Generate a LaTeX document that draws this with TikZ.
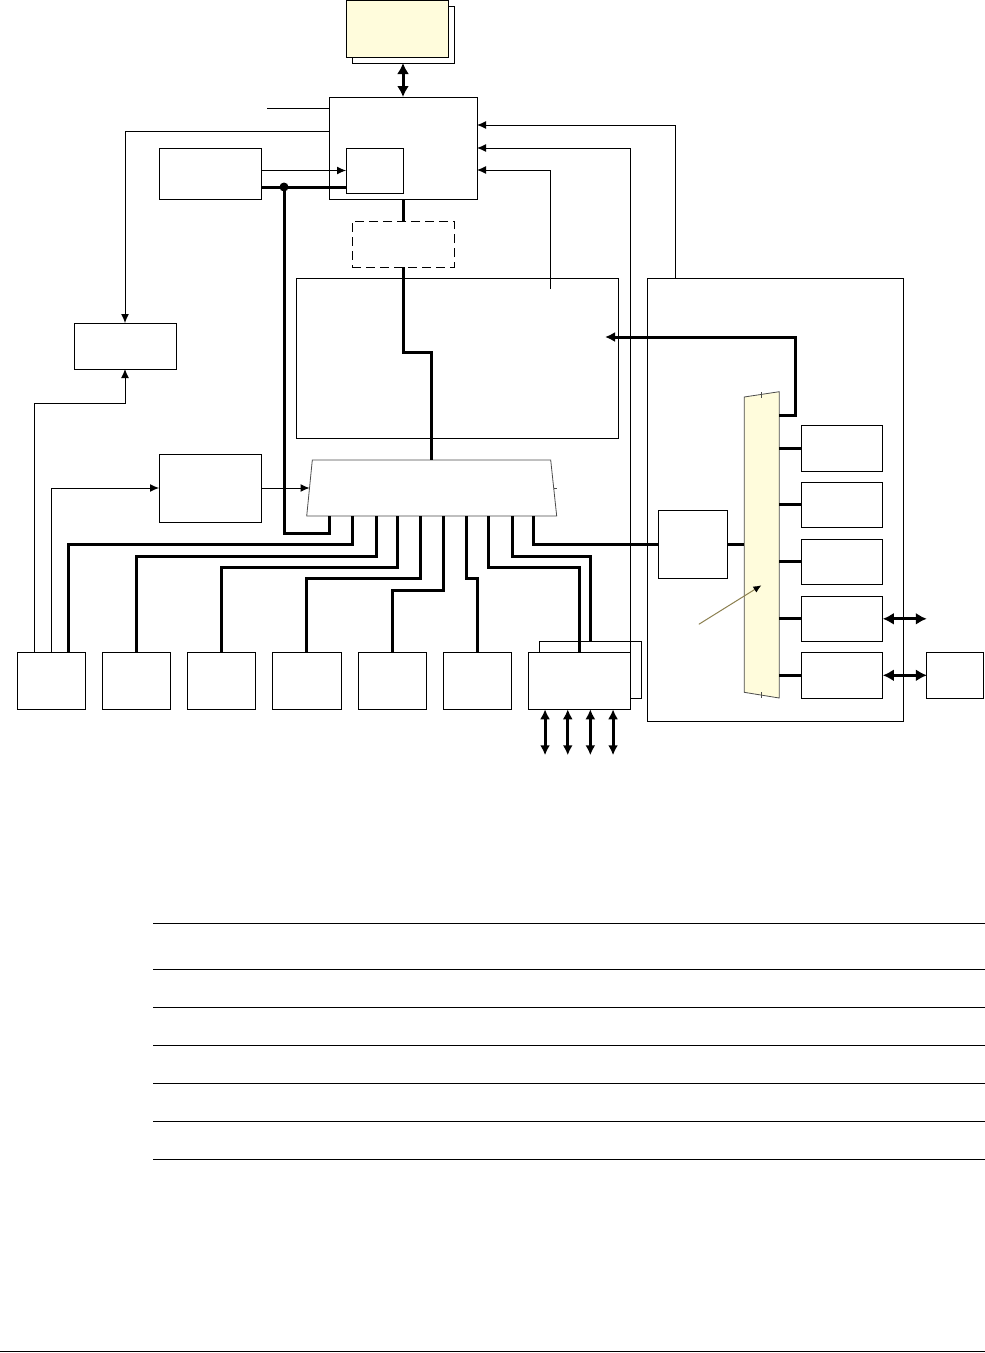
\documentclass[tikz,border=0pt]{standalone}
\usetikzlibrary{arrows.meta,calc}
\definecolor{docyellow}{HTML}{FFFCDC}
\definecolor{pointer}{HTML}{8C8050}
\begin{document}
\begin{tikzpicture}[x=1pt,y=-1pt,
  box/.style={draw,line width=1pt,fill=white,inner sep=0pt,outer sep=0pt},
  sig/.style={line width=1pt},
  bus/.style={line width=3pt},
  tipS/.tip={Latex[length=9pt,width=8pt]},
  tipB/.tip={Latex[length=11pt,width=12pt]},
  tipM/.tip={Latex[length=10pt,width=10pt]}]
\useasboundingbox (0,0) rectangle (985,1353);

% ---- nodes ----
\node[box,minimum width=102pt,minimum height=57pt] (docback) at (403,34.5) {};
\node[box,fill=docyellow,minimum width=102pt,minimum height=57pt] (doc) at (397,29) {};
\node[box,minimum width=148pt,minimum height=102pt] (ctrl) at (403,148) {};
\node[box,minimum width=57pt,minimum height=45pt] (inner) at (374.5,170.5) {};
\node[box,minimum width=102pt,minimum height=51pt] (boxA) at (210,173.5) {};
\node[box,minimum width=102pt,minimum height=46pt] (boxB) at (125,346) {};
\node[box,dashed,dash pattern=on 9pt off 5pt,minimum width=102pt,minimum height=46pt] (dash) at (403,244) {};
\node[box,minimum width=322pt,minimum height=160pt] (cpu) at (457,358) {};
\node[box,minimum width=102pt,minimum height=68pt] (boxC) at (210,488) {};
\node[box,minimum width=255.6pt,minimum height=443.7pt] (panel) at (775.2,500) {};

\node[box,minimum width=68pt,minimum height=56.5pt] (b1) at (51,681) {};
\node[box,minimum width=68pt,minimum height=56.5pt] (b2) at (136,681) {};
\node[box,minimum width=68pt,minimum height=56.5pt] (b3) at (221,681) {};
\node[box,minimum width=69pt,minimum height=56.5pt] (b4) at (306.5,681) {};
\node[box,minimum width=68pt,minimum height=56.5pt] (b5) at (392,681) {};
\node[box,minimum width=68pt,minimum height=56.5pt] (b6) at (477,681) {};
\node[box,minimum width=101.4pt,minimum height=57pt] (b7back) at (590.3,669.5) {};
\node[box,minimum width=102.5pt,minimum height=56.5pt] (b7) at (579.3,681) {};

\node[box,minimum width=69pt,minimum height=68.3pt] (D) at (693,544.2) {};
\node[box,minimum width=81pt,minimum height=46pt] (r1) at (842.3,448.3) {};
\node[box,minimum width=81pt,minimum height=45pt] (r2) at (842.3,504.8) {};
\node[box,minimum width=81pt,minimum height=45pt] (r3) at (842.3,561.8) {};
\node[box,minimum width=81pt,minimum height=45pt] (r4) at (842.3,618.8) {};
\node[box,minimum width=81pt,minimum height=46pt] (r5) at (842.3,675.3) {};
\node[box,minimum width=57pt,minimum height=46pt] (E) at (955.4,675.3) {};

% ---- multiplexers ----
\draw[line width=0.8pt,draw=black!70,fill=white]
  (312.3,460) -- (550.7,460) -- (556.7,516) -- (306.7,516) -- cycle;
\draw[line width=0.8pt,draw=black!70] (553.5,488) -- (557,488);
\coordinate (mt) at (431.7,460);
\coordinate (mlw) at (309.5,488);
\foreach \i/\x in {1/329.5,2/352,3/376,4/397.7,5/420.5,6/443,7/466,8/488.6,9/512,10/533.7}
  \coordinate (p\i) at (\x,516);

\draw[line width=0.8pt,draw=black!70,fill=docyellow]
  (744.2,397) -- (779.2,391.7) -- (779.2,698) -- (744.2,692.3) -- cycle;
\draw[line width=0.8pt,draw=black!70] (761.4,392) -- (761.4,397.5) (761.4,692) -- (761.4,697.5);
\coordinate (rmR) at (779.2,0);
\coordinate (rmL) at (744.2,0);
\coordinate (rm0) at (779.2,415.3);

% ---- free-end coordinates ----
\coordinate (l1) at (267,108);
\coordinate (cpuin) at (550,289);
\coordinate (cpuarr) at (605,337);
\coordinate (jn) at (284,187);
\coordinate (ext) at (926.8,618.8);
\coordinate (ptr) at (698.8,624.3);
\coordinate (ptrtip) at (761.4,585.3);

% ---- top area ----
\draw[bus,tipB-tipB] (docback.south) -- (ctrl.north);
\draw[sig] (l1) -- (l1 -| ctrl.west);
\draw[sig,-tipS] ($(ctrl.west)+(0,-17)$) -| (boxB.north);
\draw[sig,-tipS] (boxA.east |- inner.west) -- (inner.west);
\draw[bus] (jn -| boxA.east) -- (jn -| inner.west);
\fill (jn) circle (4.5pt);
\draw[bus] (jn) |- ($(p1)+(0,17)$) -- (p1);
\draw[bus] (ctrl.south) -- (dash.north);
\draw[bus] (dash.south) |- ($(mt)+(0,-108)$) -- (mt);

% ---- right feedback lines ----
\draw[sig,-tipS] ($(panel.north west)+(27.6,0)$) |- ($(ctrl.east)+(0,-23)$);
\draw[sig,-tipS] (b7.north east) |- (ctrl.east);
\draw[sig,-tipS] (cpuin) |- ($(ctrl.east)+(0,22)$);

% ---- left side ----
\draw[sig,-tipS] ($(b1.north west)+(17.5,0)$) |- ($(boxB.south)+(0,34)$) -- (boxB.south);
\draw[sig,-tipS] ($(b1.north west)+(34.3,0)$) |- (boxC.west);
\draw[sig,-tipS] (boxC.east) -- (mlw);

% ---- bus to bottom boxes ----
\draw[bus] (p2) -- ++(0,28) -| ($(b1.north)+(17,0)$);
\draw[bus] (p3) -- ++(0,40.7) -| (b2.north);
\draw[bus] (p4) -- ++(0,51.7) -| (b3.north);
\draw[bus] (p5) -- ++(0,62.7) -| (b4.north);
\draw[bus] (p6) -- ++(0,74) -| (b5.north);
\draw[bus] (p7) -- ++(0,62.7) -| (b6.north);
\draw[bus] (p8) -- ++(0,51.7) -| (b7.north);
\draw[bus] (p9) -- ++(0,40.7) -| (b7back.north);
\draw[bus] (p10) |- (D.west);

\foreach \dx in {17,39.7,62.3,85}
  \draw[bus,tipM-tipM] ($(b7.south west)+(\dx,0)$) -- ++(0,46);

% ---- right panel ----
\draw[bus,-{Latex[length=10pt,width=10pt]}] (rm0) -- ++(16.5,0) |- (cpuarr);
\foreach \r in {r1,r2,r3,r4,r5}
  \draw[bus] (\r.west -| rmR) -- (\r.west);
\draw[bus] (D.east) -- (D.east -| rmL);
\draw[bus,tipB-tipB] (r4.east) -- (ext);
\draw[bus,tipB-tipB] (r5.east) -- (E.west);
\draw[line width=1pt,draw=pointer,-{Latex[length=8pt,width=7pt,color=black]}] (ptr) -- (ptrtip);

% ---- table lines ----
\foreach \y in {923,969,1007,1045,1083,1121,1159}
  \draw[sig] (153,\y) -- (985,\y);
\draw[line width=1.3pt] (0,1351.6) -- (985,1351.6);
\end{tikzpicture}
\end{document}
